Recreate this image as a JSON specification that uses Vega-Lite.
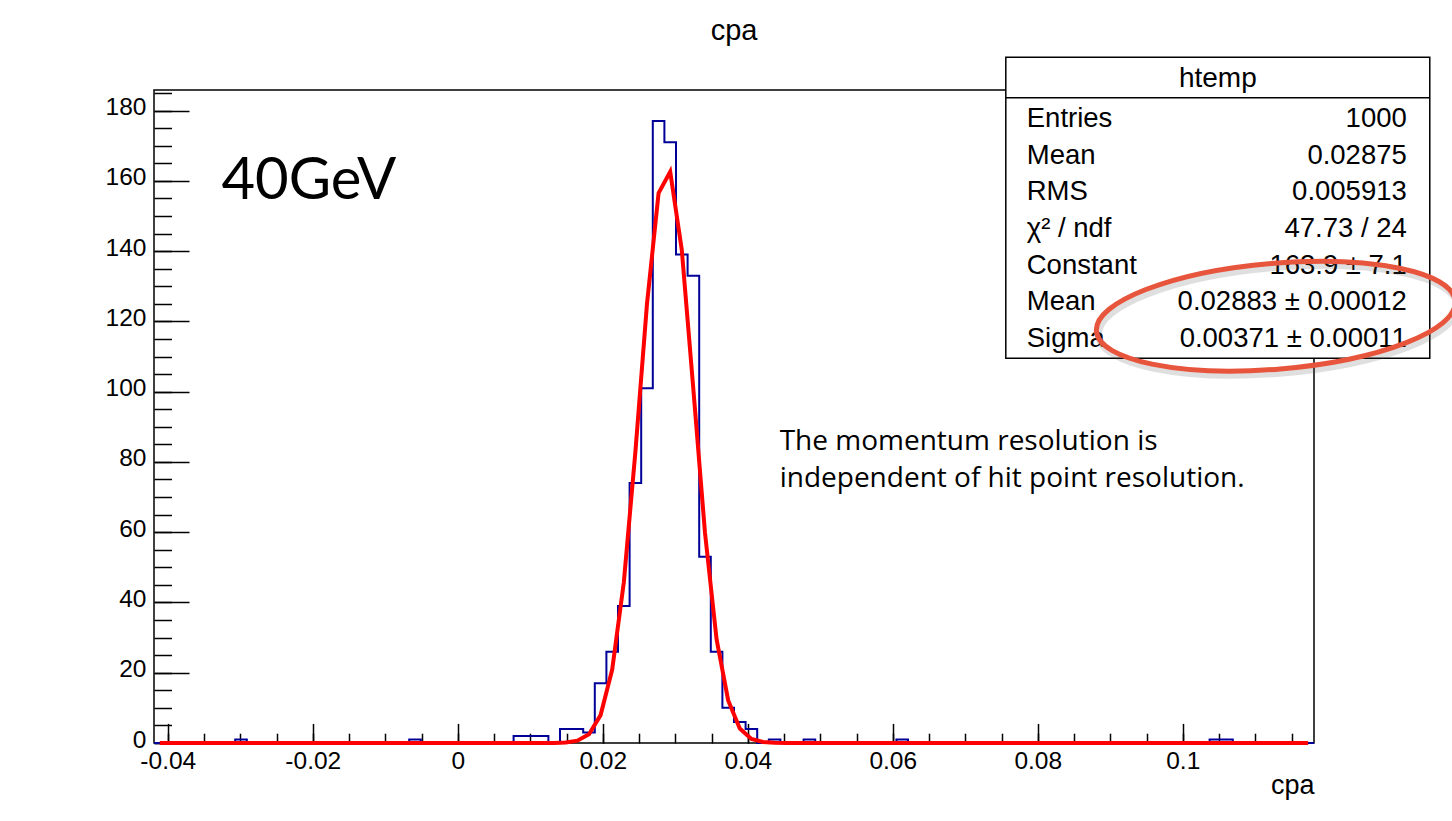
{
  "$schema": "https://vega.github.io/schema/vega-lite/v6.json",
  "width": 1160,
  "height": 653,
  "autosize": {"type": "none"},
  "padding": {"left": 154, "top": 90, "right": 138, "bottom": 78},
  "background": "white",
  "title": {"text": "cpa", "font": "Liberation Sans", "fontSize": 29, "fontWeight": "normal", "color": "black", "anchor": "middle", "offset": 11},
  "config": {
    "view": {"stroke": "black", "strokeWidth": 1.5},
    "axis": {"domain": false, "grid": false, "tickColor": "black", "tickWidth": 1.5, "labelColor": "black", "labelFont": "Liberation Sans", "labelFontSize": 24.5, "labelFlush": false, "labelOverlap": false, "labelBound": false, "titleColor": "black", "titleFont": "Liberation Sans", "titleFontWeight": "normal"}
  },
  "datasets": {
    "hist": [
      {"x": -0.0419, "n": 0}, {"x": -0.0403, "n": 0}, {"x": -0.0387, "n": 0}, {"x": -0.0371, "n": 0}, {"x": -0.0355, "n": 0},
      {"x": -0.0339, "n": 0}, {"x": -0.0323, "n": 0}, {"x": -0.0307, "n": 1}, {"x": -0.0291, "n": 0}, {"x": -0.0275, "n": 0},
      {"x": -0.0259, "n": 0}, {"x": -0.0243, "n": 0}, {"x": -0.0227, "n": 0}, {"x": -0.0211, "n": 0}, {"x": -0.0195, "n": 0},
      {"x": -0.0179, "n": 0}, {"x": -0.0163, "n": 0}, {"x": -0.0147, "n": 0}, {"x": -0.0131, "n": 0}, {"x": -0.0115, "n": 0},
      {"x": -0.0099, "n": 0}, {"x": -0.0083, "n": 0}, {"x": -0.0067, "n": 1}, {"x": -0.0051, "n": 0}, {"x": -0.0035, "n": 0},
      {"x": -0.0019, "n": 0}, {"x": -0.0003, "n": 0}, {"x": 0.0013, "n": 0}, {"x": 0.0029, "n": 0}, {"x": 0.0045, "n": 0},
      {"x": 0.0061, "n": 0}, {"x": 0.0077, "n": 2}, {"x": 0.0093, "n": 2}, {"x": 0.0109, "n": 2}, {"x": 0.0125, "n": 0},
      {"x": 0.0141, "n": 4}, {"x": 0.0157, "n": 4}, {"x": 0.0173, "n": 3}, {"x": 0.0189, "n": 17}, {"x": 0.0205, "n": 26},
      {"x": 0.0221, "n": 39}, {"x": 0.0237, "n": 74}, {"x": 0.0253, "n": 101}, {"x": 0.0269, "n": 177}, {"x": 0.0285, "n": 171},
      {"x": 0.0301, "n": 139}, {"x": 0.0317, "n": 133}, {"x": 0.0333, "n": 53}, {"x": 0.0349, "n": 26}, {"x": 0.0365, "n": 10},
      {"x": 0.0381, "n": 6}, {"x": 0.0397, "n": 4}, {"x": 0.0413, "n": 0}, {"x": 0.0429, "n": 1}, {"x": 0.0445, "n": 0},
      {"x": 0.0461, "n": 0}, {"x": 0.0477, "n": 1}, {"x": 0.0493, "n": 0}, {"x": 0.0509, "n": 0}, {"x": 0.0525, "n": 0},
      {"x": 0.0541, "n": 0}, {"x": 0.0557, "n": 0}, {"x": 0.0573, "n": 0}, {"x": 0.0589, "n": 0}, {"x": 0.0605, "n": 1},
      {"x": 0.0621, "n": 0}, {"x": 0.0637, "n": 0}, {"x": 0.0653, "n": 0}, {"x": 0.0669, "n": 0}, {"x": 0.0685, "n": 0},
      {"x": 0.0701, "n": 0}, {"x": 0.0717, "n": 0}, {"x": 0.0733, "n": 0}, {"x": 0.0749, "n": 0}, {"x": 0.0765, "n": 0},
      {"x": 0.0781, "n": 0}, {"x": 0.0797, "n": 0}, {"x": 0.0813, "n": 0}, {"x": 0.0829, "n": 0}, {"x": 0.0845, "n": 0},
      {"x": 0.0861, "n": 0}, {"x": 0.0877, "n": 0}, {"x": 0.0893, "n": 0}, {"x": 0.0909, "n": 0}, {"x": 0.0925, "n": 0},
      {"x": 0.0941, "n": 0}, {"x": 0.0957, "n": 0}, {"x": 0.0973, "n": 0}, {"x": 0.0989, "n": 0}, {"x": 0.1005, "n": 0},
      {"x": 0.1021, "n": 0}, {"x": 0.1037, "n": 1}, {"x": 0.1053, "n": 1}, {"x": 0.1069, "n": 0}, {"x": 0.1085, "n": 0},
      {"x": 0.1101, "n": 0}, {"x": 0.1117, "n": 0}, {"x": 0.1133, "n": 0}, {"x": 0.1149, "n": 0}, {"x": 0.1165, "n": 0},
      {"x": 0.1181, "n": 0}
    ],
    "fit": [
      {"x": -0.0411, "f": 0}, {"x": 0.0069, "f": 0}, {"x": 0.0085, "f": 0}, {"x": 0.0101, "f": 0},
      {"x": 0.0117, "f": 0.004}, {"x": 0.0133, "f": 0.026}, {"x": 0.0149, "f": 0.142}, {"x": 0.0165, "f": 0.654},
      {"x": 0.0181, "f": 2.5}, {"x": 0.0197, "f": 7.94}, {"x": 0.0213, "f": 20.9}, {"x": 0.0229, "f": 45.7},
      {"x": 0.0245, "f": 82.9}, {"x": 0.0261, "f": 125.0}, {"x": 0.0277, "f": 156.5}, {"x": 0.0293, "f": 162.6},
      {"x": 0.0309, "f": 140.3}, {"x": 0.0325, "f": 100.5}, {"x": 0.0341, "f": 59.8}, {"x": 0.0357, "f": 29.5},
      {"x": 0.0373, "f": 12.1}, {"x": 0.0389, "f": 4.12}, {"x": 0.0405, "f": 1.16}, {"x": 0.0421, "f": 0.273},
      {"x": 0.0437, "f": 0.053}, {"x": 0.0453, "f": 0.009}, {"x": 0.0469, "f": 0}, {"x": 0.0485, "f": 0},
      {"x": 0.1173, "f": 0}
    ],
    "one": [{}]
  },
  "resolve": {"axis": {"x": "independent", "y": "independent"}},
  "layer": [
    {
      "data": {"name": "hist"},
      "mark": {"type": "line", "interpolate": "step-after", "color": "#000099", "strokeWidth": 2},
      "encoding": {
        "x": {"field": "x", "type": "quantitative", "scale": {"domain": [-0.0419, 0.1181], "nice": false, "zero": false},
          "axis": {"orient": "bottom", "values": [-0.04, -0.02, 0, 0.02, 0.04, 0.06, 0.08, 0.1], "format": "~g", "labelExpr": "replace(datum.label, '\u2212', '-')", "tickSize": -19.6, "labelPadding": 26, "title": "cpa", "titleFontSize": 27, "titleAnchor": "end", "titleAlign": "right", "titleBaseline": "alphabetic", "titleX": 1160, "titleY": 50}},
        "y": {"field": "n", "type": "quantitative", "scale": {"domain": [0, 185.85], "nice": false},
          "axis": {"orient": "left", "values": [0, 20, 40, 60, 80, 100, 120, 140, 160, 180], "tickSize": -35, "labelPadding": 43, "labelBaseline": "middle", "labelOffset": -3, "title": null}}
      }
    },
    {
      "data": {"name": "fit"},
      "mark": {"type": "line", "color": "#ff0000", "strokeWidth": 4},
      "encoding": {
        "x": {"field": "x", "type": "quantitative", "scale": {"domain": [-0.0419, 0.1181], "nice": false, "zero": false},
          "axis": {"orient": "bottom", "values": [-0.04, -0.035, -0.03, -0.025, -0.02, -0.015, -0.01, -0.005, 0, 0.005, 0.01, 0.015, 0.02, 0.025, 0.03, 0.035, 0.04, 0.045, 0.05, 0.055, 0.06, 0.065, 0.07, 0.075, 0.08, 0.085, 0.09, 0.095, 0.1, 0.105, 0.11, 0.115], "labels": false, "tickSize": -9.8, "title": null}},
        "y": {"field": "f", "type": "quantitative", "scale": {"domain": [0, 185.85], "nice": false},
          "axis": {"orient": "left", "values": [0, 5, 10, 15, 20, 25, 30, 35, 40, 45, 50, 55, 60, 65, 70, 75, 80, 85, 90, 95, 100, 105, 110, 115, 120, 125, 130, 135, 140, 145, 150, 155, 160, 165, 170, 175, 180, 185], "labels": false, "tickSize": -17.5, "title": null}}
      }
    },
    {
      "data": {"name": "one"},
      "mark": {"type": "text", "text": "40GeV", "font": "Lato", "fontSize": 58, "align": "left", "baseline": "alphabetic", "color": "black"},
      "encoding": {
        "x": {"datum": -0.0326, "type": "quantitative", "axis": null},
        "y": {"datum": 154.8, "type": "quantitative", "axis": null}
      }
    },
    {
      "data": {"name": "one"},
      "mark": {"type": "text", "text": ["The momentum resolution is", "independent of hit point resolution."], "font": "Open Sans", "fontSize": 28, "lineHeight": 37, "align": "left", "baseline": "alphabetic", "color": "black"},
      "encoding": {
        "x": {"datum": 0.0444, "type": "quantitative", "axis": null},
        "y": {"datum": 83.4, "type": "quantitative", "axis": null}
      }
    },
    {
      "data": {"name": "one"},
      "mark": {"type": "rect", "fill": "white", "stroke": "black", "strokeWidth": 1.5},
      "encoding": {
        "x": {"datum": 0.07559, "type": "quantitative", "axis": null},
        "x2": {"datum": 0.13407},
        "y": {"datum": 195.16, "type": "quantitative", "axis": null},
        "y2": {"datum": 109.53}
      }
    },
    {
      "data": {"name": "one"},
      "mark": {"type": "rule", "color": "black", "strokeWidth": 1.5},
      "encoding": {
        "x": {"datum": 0.07559, "type": "quantitative", "axis": null},
        "x2": {"datum": 0.13407},
        "y": {"datum": 183.64, "type": "quantitative", "axis": null}
      }
    },
    {
      "data": {"name": "one"},
      "mark": {"type": "text", "text": "htemp", "font": "Liberation Sans", "fontSize": 28, "align": "center", "baseline": "alphabetic", "color": "black"},
      "encoding": {
        "x": {"datum": 0.10483, "type": "quantitative", "axis": null},
        "y": {"datum": 186.6, "type": "quantitative", "axis": null}
      }
    },
    {
      "data": {"name": "one"},
      "mark": {"type": "text", "text": ["Entries", "Mean", "RMS", "χ² / ndf", "Constant", "Mean", "Sigma"], "font": "Liberation Sans", "fontSize": 27.5, "lineHeight": 36.6, "align": "left", "baseline": "alphabetic", "color": "black"},
      "encoding": {
        "x": {"datum": 0.07848, "type": "quantitative", "axis": null},
        "y": {"datum": 175.25, "type": "quantitative", "axis": null}
      }
    },
    {
      "data": {"name": "one"},
      "mark": {"type": "text", "text": ["1000", "0.02875", "0.005913", "47.73 / 24", "163.9 ± 7.1", "0.02883 ± 0.00012", "0.00371 ± 0.00011"], "font": "Liberation Sans", "fontSize": 27.5, "lineHeight": 36.6, "align": "right", "baseline": "alphabetic", "color": "black"},
      "encoding": {
        "x": {"datum": 0.1309, "type": "quantitative", "axis": null},
        "y": {"datum": 175.25, "type": "quantitative", "axis": null}
      }
    },
    {
      "data": {"name": "one"},
      "mark": {"type": "point", "shape": "M-1,0A1,0.294 0 1,1 1,0A1,0.294 0 1,1 -1,0Z", "size": 129600, "angle": -4.8, "filled": false, "stroke": "#555555", "strokeWidth": 7, "opacity": 0.18},
      "encoding": {
        "x": {"datum": 0.11311, "type": "quantitative", "axis": null},
        "y": {"datum": 120.3, "type": "quantitative", "axis": null}
      }
    },
    {
      "data": {"name": "one"},
      "mark": {"type": "point", "shape": "M-1,0A1,0.294 0 1,1 1,0A1,0.294 0 1,1 -1,0Z", "size": 129600, "angle": -4.8, "filled": false, "stroke": "#e8553d", "strokeWidth": 5, "opacity": 1},
      "encoding": {
        "x": {"datum": 0.11283, "type": "quantitative", "axis": null},
        "y": {"datum": 121.48, "type": "quantitative", "axis": null}
      }
    }
  ]
}
